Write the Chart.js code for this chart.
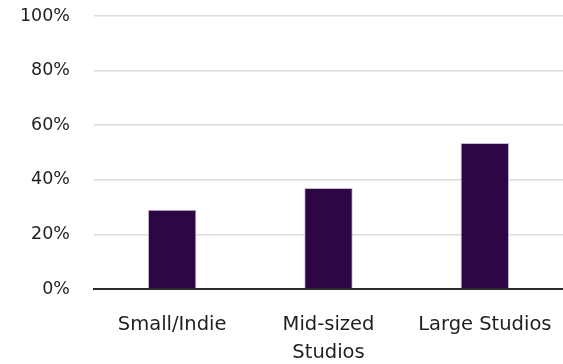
<!DOCTYPE html>
<html>
<head>
<meta charset="utf-8">
<script src="https://cdn.jsdelivr.net/npm/chart.js@4.4.0/dist/chart.umd.min.js"></script>
<style>
  html, body { margin: 0; padding: 0; background: #fff; }
  #wrap { width: 563px; height: 364px; position: relative; }
</style>
</head>
<body>
<div id="wrap"><canvas id="chart"></canvas></div>
<script>
'use strict';
// studio size categories and share values (percent)
let categories = ['Small/Indie', ['Mid-sized', 'Studios'], 'Large Studios'];
let shareValues = [29, 37, 53.5];
let yTicks = [0, 20, 40, 60, 80, 100];

let barColor = '#2d0644';
let textColor = '#1f1f1f';
let fontFamily = "'DejaVu Sans', sans-serif";

const canvasEl = document.getElementById('chart');
let chart = new Chart(canvasEl.getContext('2d'), {
  type: 'bar',
  data: {
    labels: categories,
    datasets: [{
      data: shareValues,
      backgroundColor: barColor,
      borderColor: '#c9b8d6',
      borderWidth: { top: 1, left: 1, right: 1, bottom: 0 },
      barPercentage: 0.31,
      categoryPercentage: 1
    }]
  },
  options: {
    responsive: true,
    maintainAspectRatio: false,
    animation: false,
    layout: { padding: { top: 16, right: 0, bottom: 0, left: 0 } },
    plugins: { legend: { display: false }, tooltip: { enabled: false } },
    scales: {
      x: {
        grid: { display: false, drawTicks: false },
        border: { display: true, color: '#2b2b2b', width: 2 },
        ticks: {
          color: textColor,
          padding: 22,
          maxRotation: 0,
          font: { family: fontFamily, size: 19.5, lineHeight: 1.45 }
        },
        afterFit: function (scale) {
          scale.height = 75;
          scale.paddingLeft = 0;
          scale.paddingRight = 0;
        }
      },
      y: {
        min: 0,
        max: 100,
        afterBuildTicks: function (scale) {
          scale.ticks = yTicks.map(v => ({ value: v }));
        },
        grid: { color: '#dcdcdc', lineWidth: 1.5, drawTicks: false },
        border: { display: false },
        ticks: {
          color: textColor,
          padding: 24,
          font: { family: fontFamily, size: 17.5 },
          callback: v => v + '%'
        },
        afterFit: function (scale) {
          scale.width = 94;
          scale.paddingTop = 0;
          scale.paddingBottom = 0;
        }
      }
    }
  }
});
</script>
</body>
</html>
